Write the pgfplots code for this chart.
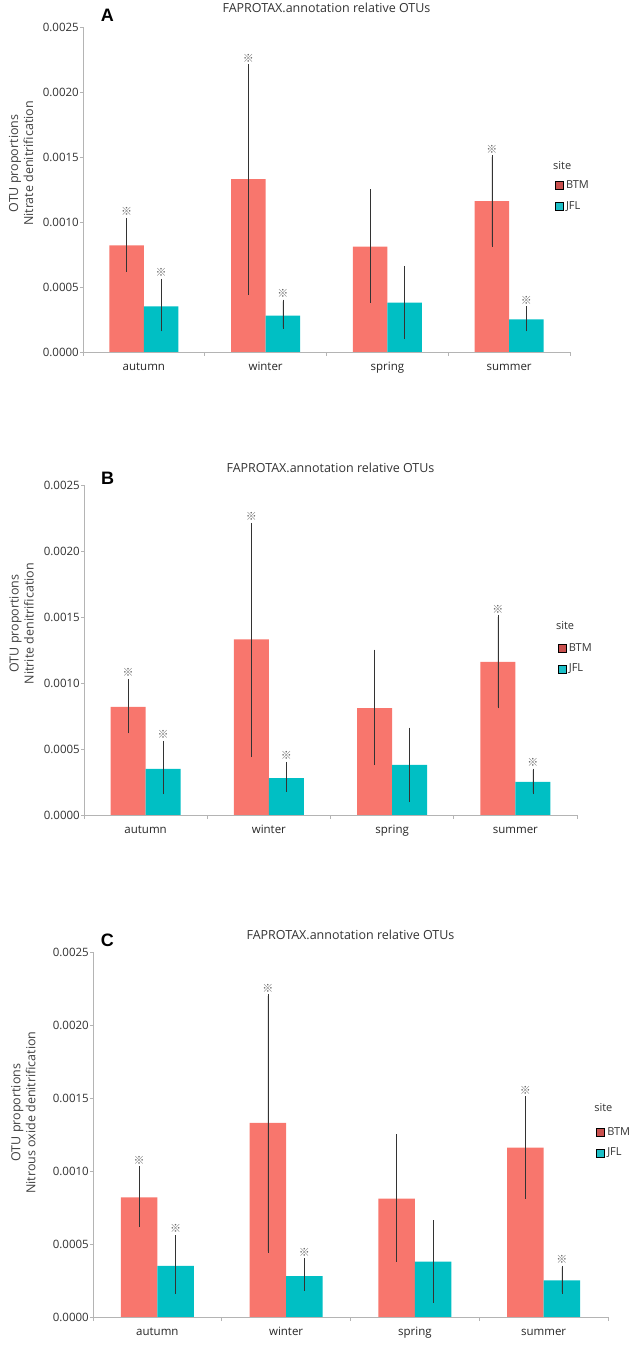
\documentclass[border=0pt]{standalone}
\usepackage{fontspec}
\setmainfont{Open Sans}
\newfontfamily\letterfont{Liberation Sans}
\newfontfamily\markfont{Noto Sans CJK SC}
\usepackage{pgfplots}
\usepackage{pgfplotstable}
\pgfplotsset{compat=1.18}

\definecolor{btm}{HTML}{F8766D}
\definecolor{jfl}{HTML}{00BFC4}
\definecolor{btmkey}{HTML}{C9504E}
\definecolor{jflkey}{HTML}{1CBFC7}
\definecolor{axgray}{HTML}{B4B4B4}
\definecolor{markgray}{HTML}{666666}

% bar tops with error bar (plus / minus)
\pgfplotstableread{
x      y        ep       em
-0.142 0.00082  0.00020  0.00019
0.858  0.00133  0.00087  0.00088
1.858  0.00081  0.00043  0.00042
2.858  0.00116  0.00034  0.00034
}\btmdata
\pgfplotstableread{
x      y        ep       em
0.142  0.00035  0.00020  0.00018
1.142  0.00028  0.00011  0.00009
2.142  0.00038  0.00027  0.00027
3.142  0.00025  0.00009  0.00008
}\jfldata
% significance marks sit on the error bar tops
\pgfplotstableread{
x      y
-0.142 0.00102
0.142  0.00055
0.858  0.00220
1.142  0.00039
2.858  0.00150
3.142  0.00034
}\markdata

\newcommand{\fs}[1]{\fontsize{#1}{1.2\dimexpr#1\relax}\selectfont}

\pgfplotsset{
  panel/.style={
    anchor=south west, scale only axis,
    xmin=-0.5, xmax=3.5, ymin=0, ymax=0.0025,
    axis x line*=bottom, axis y line*=left,
    axis line style={axgray, line width=0.8bp},
    every tick/.style={axgray, line width=0.8bp},
    tick align=outside,
    xtick={0,1,2,3}, xticklabels={autumn,winter,spring,summer},
    major x tick style={draw=none},
    minor xtick={-0.5,0.5,1.5,2.5,3.5},
    minor tick length=4bp, major tick length=3bp,
    ytick={0,0.0005,0.001,0.0015,0.002,0.0025},
    scaled y ticks=false,
    yticklabel style={/pgf/number format/fixed, /pgf/number format/fixed zerofill,
      /pgf/number format/precision=4, /pgf/number format/assume math mode=true,
      font=\fs{11.5bp}, inner sep=1bp, text=black!80},
    xticklabel style={font=\fs{11.5bp}, text=black!85, yshift=-3bp,
      text height=8.5bp, text depth=2.5bp},
    ylabel style={font=\fontsize{12.5bp}{15bp}\selectfont, align=center,
      text=black!75, anchor=south},
    title style={font=\fs{12.5bp}, text=black!80, anchor=center},
    legend style={draw=none, fill=none, inner sep=0pt, row sep=6bp,
      font=\fs{11bp}, text=black!80, nodes={inner sep=2.5bp}},
    legend cell align=left,
    legend image code/.code={\fill[##1] (0bp,-4bp) rectangle (8bp,4bp);},
    clip=false,
  },
  bars/.style={ybar, bar width=0.283, bar shift=0pt, draw=none, forget plot,
    error bars/y dir=both, error bars/y explicit,
    error bars/error bar style={black!80, line width=0.6bp},
    error bars/error mark options={black!80, line width=0.6bp, mark size=1.6bp}},
  marks/.style={draw=none, mark=none, forget plot,
    nodes near coords={\markfont ※},
    every node near coord/.append style={anchor=south, inner sep=0pt,
      yshift=3.5bp, text=markgray, font=\fs{11bp}}},
}

\newcommand{\panelcontent}{%
  \addplot[bars, fill=btm] table[x=x, y=y, y error plus=ep, y error minus=em] {\btmdata};
  \addplot[bars, fill=jfl] table[x=x, y=y, y error plus=ep, y error minus=em] {\jfldata};
  \addplot[marks] table[x=x, y=y] {\markdata};
  \addlegendimage{fill=btmkey}\addlegendentry{BTM}
  \addlegendimage{fill=jflkey}\addlegendentry{JFL}
}

\begin{document}
\begin{tikzpicture}
\useasboundingbox (0,0) rectangle (640bp,1350bp);

% panel A
\begin{axis}[panel, at={(83bp,998bp)}, width=487bp, height=325bp,
  title={FAPROTAX.annotation relative OTUs}, title style={at={(0.5,1.040)}},
  ylabel={OTU proportions\\Nitrate denitrification},
  ylabel style={at={(axis description cs:-0.095,0.58)}},
  legend style={at={(rel axis cs:0.969,0.535)}, anchor=north west}]
  \panelcontent
  \node[font=\letterfont\bfseries\fs{18bp}] at (axis description cs:0.05,1.037) {A};
  \node[font=\fs{11bp}, text=black!80, anchor=west, inner sep=0pt] at (axis description cs:0.965,0.575) {site};
\end{axis}

% panel B
\begin{axis}[panel, at={(84bp,535bp)}, width=493bp, height=330bp,
  title={FAPROTAX.annotation relative OTUs}, title style={at={(0.5,1.034)}},
  ylabel={OTU proportions\\Nitrite denitrification},
  ylabel style={at={(axis description cs:-0.095,0.58)}},
  legend style={at={(rel axis cs:0.961,0.527)}, anchor=north west}]
  \panelcontent
  \node[font=\letterfont\bfseries\fs{18bp}] at (axis description cs:0.048,1.021) {B};
  \node[font=\fs{11bp}, text=black!80, anchor=west, inner sep=0pt] at (axis description cs:0.957,0.573) {site};
\end{axis}

% panel C
\begin{axis}[panel, at={(93bp,33bp)}, width=515bp, height=365bp,
  title={FAPROTAX.annotation relative OTUs}, title style={at={(0.5,1.031)}},
  ylabel={OTU proportions\\Nitrous oxide denitrification},
  ylabel style={at={(axis description cs:-0.105,0.56)}},
  legend style={at={(rel axis cs:0.977,0.526)}, anchor=north west}]
  \panelcontent
  \node[font=\letterfont\bfseries\fs{18bp}] at (axis description cs:0.028,1.033) {C};
  \node[font=\fs{11bp}, text=black!80, anchor=west, inner sep=0pt] at (axis description cs:0.973,0.573) {site};
\end{axis}
\end{tikzpicture}
\end{document}
